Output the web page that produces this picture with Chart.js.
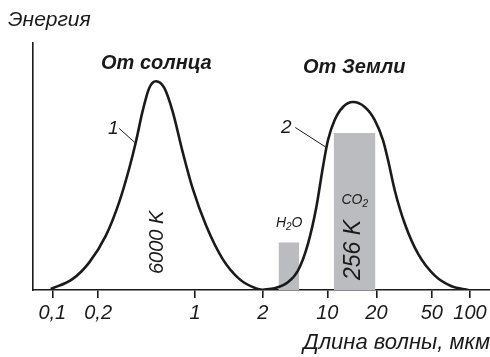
<!DOCTYPE html>
<html>
<head>
<meta charset="utf-8">
<script src="https://cdn.jsdelivr.net/npm/chart.js@4/dist/chart.umd.min.js"></script>
<style>
  body { margin: 0; background: #fff; }
  canvas { display: block; }
</style>
</head>
<body>
<canvas id="chart" width="490" height="357"></canvas>
<script>
/**
 * DATA (schematic axis: x = position along the wavelength axis, y = energy, 0..100)
 */
const tickPos = [19.3, 65, 161.7, 229.3, 293.7, 342.7, 398, 436];
const tickLabels = ["0,1", "0,2", "1", "2", "10", "20", "50", "100"];

// curve 1 - radiation of the Sun (6000 K)
const sunX = [17.7, 39.3, 56, 72.7, 86, 96, 102.7, 109.3, 116, 122.7, 131, 139.3, 149.3, 159.3, 172.7, 189.3, 206, 222.7, 229.3];
const sunY = [0.4, 4.4, 11.1, 22.0, 35.6, 49.2, 60.0, 72.3, 81.8, 84.5, 81.8, 72.3, 55.9, 41.1, 26.1, 12.5, 4.4, 0.6, 0];

// curve 2 - radiation of the Earth (256 K)
const earthX = [229.3, 241, 254.3, 264.3, 274.3, 282.7, 289.3, 294.3, 301, 309.3, 319.3, 331, 341, 349.3, 354.3, 361, 371, 384.3, 401, 417.7, 434.3];
const earthY = [0.1, 0.7, 3.1, 7.8, 18.6, 33.5, 49.8, 60.6, 68.8, 74.1, 76.1, 74.1, 68.8, 60.6, 52.5, 40.3, 26.8, 14.6, 5.8, 1.5, 0];

// absorption bands
const bandNames = ["H2O", "CO2"];
const bandFrom = [245, 300];
const bandTo = [265.7, 341.7];
const bandHeight = [19.2, 63.6];

const FONT = '"Liberation Sans", Arial, Helvetica, sans-serif';
const INK = "#1a1a1a";
const BAND = "#bbbcbf";

/**
 * AUX
 */
const toPoints = (xs, ys) => xs.map((x, i) => ({ x: x, y: ys[i] }));

const curveDataset = (label, xs, ys) => ({
  label: label,
  data: toPoints(xs, ys),
  showLine: true,
  borderColor: INK,
  borderWidth: 2.6,
  pointRadius: 0,
  cubicInterpolationMode: "monotone",
  fill: false
});

const bandDataset = (i) => ({
  label: bandNames[i],
  data: [{ x: bandFrom[i], y: bandHeight[i] }, { x: bandTo[i], y: bandHeight[i] }],
  showLine: true,
  borderWidth: 0,
  borderColor: BAND,
  backgroundColor: BAND,
  pointRadius: 0,
  fill: "origin"
});

// text with an optional subscript part: parts = [[text, isSub], ...]
const drawParts = (ctx, parts, cx, cy, size) => {
  const subSize = Math.round(size * 0.72);
  let total = 0;
  parts.forEach(p => {
    ctx.font = `italic ${p[1] ? subSize : size}px ${FONT}`;
    total += ctx.measureText(p[0]).width;
  });
  let x = cx - total / 2;
  ctx.textAlign = "left";
  ctx.textBaseline = "middle";
  parts.forEach(p => {
    ctx.font = `italic ${p[1] ? subSize : size}px ${FONT}`;
    ctx.fillText(p[0], x, p[1] ? cy + size * 0.3 : cy);
    x += ctx.measureText(p[0]).width;
  });
};

const notes = {
  id: "notes",
  afterDatasetsDraw(chart) {
    const { ctx, scales: { x, y } } = chart;
    const px = v => x.getPixelForValue(v);
    const py = v => y.getPixelForValue(v);
    ctx.save();
    ctx.fillStyle = INK;
    ctx.strokeStyle = INK;

    // y axis caption
    ctx.font = `italic 21px ${FONT}`;
    ctx.textAlign = "left";
    ctx.textBaseline = "alphabetic";
    ctx.fillText("Энергия", 8, 26);

    // headings
    ctx.font = `italic bold 20px ${FONT}`;
    ctx.textAlign = "center";
    ctx.fillText("От солнца", px(123), py(89.3));
    ctx.fillText("От Земли", px(320.5), py(87.9));

    // curve numbers with leaders
    ctx.font = `italic 19px ${FONT}`;
    ctx.fillText("1", px(80), py(63.3));
    ctx.fillText("2", px(252.7), py(63.6));
    ctx.lineWidth = 1;
    ctx.beginPath();
    ctx.moveTo(px(86), py(65.4));
    ctx.lineTo(px(102.7), py(59.3));
    ctx.moveTo(px(261.7), py(65.8));
    ctx.lineTo(px(292.7), py(57.7));
    ctx.stroke();

    // temperatures, rotated
    const vertical = (txt, vx, vy, size) => {
      ctx.save();
      ctx.translate(px(vx), py(vy));
      ctx.rotate(-Math.PI / 2);
      ctx.font = `italic ${size}px ${FONT}`;
      ctx.textAlign = "center";
      ctx.textBaseline = "middle";
      ctx.fillText(txt, 0, 0);
      ctx.restore();
    };
    vertical("6000 K", 124.3, 19.3, 20);
    vertical("256 K", 320.3, 16.2, 23);

    // band names
    drawParts(ctx, [["H", false], ["2", true], ["O", false]], px(255.6), py(27.1), 14);
    drawParts(ctx, [["CO", false], ["2", true]], px(321), py(36.3), 14);

    ctx.restore();
  }
};

/**
 * Chart
 */
document.addEventListener("DOMContentLoaded", () => {
  new Chart(document.getElementById("chart"), {
    type: "scatter",
    data: {
      datasets: [
        curveDataset("1", sunX, sunY),
        curveDataset("2", earthX, earthY),
        bandDataset(0),
        bandDataset(1)
      ]
    },
    options: {
      responsive: false,
      animation: false,
      devicePixelRatio: 1,
      layout: { padding: { top: 43, left: 33, right: 0, bottom: 1 } },
      plugins: {
        legend: { display: false },
        tooltip: { enabled: false }
      },
      scales: {
        x: {
          type: "linear",
          min: 0,
          max: 456,
          afterBuildTicks: scale => {
            scale.ticks = tickPos.map(v => ({ value: v }));
          },
          ticks: {
            autoSkip: false,
            maxRotation: 0,
            padding: 3,
            color: INK,
            font: { family: FONT, size: 20, style: "italic" },
            callback: (value, index) => tickLabels[index]
          },
          grid: {
            display: true,
            drawOnChartArea: false,
            drawTicks: true,
            tickLength: 8,
            color: INK,
            lineWidth: 1.6
          },
          border: { display: true, color: INK, width: 1.6 },
          title: {
            display: true,
            text: "Длина волны, мкм",
            align: "end",
            color: INK,
            font: { family: FONT, size: 22, style: "italic" },
            padding: { top: 1.6, bottom: 0 }
          }
        },
        y: {
          min: 0,
          max: 100,
          ticks: { display: false },
          grid: { display: false, drawTicks: false },
          border: { display: true, color: INK, width: 1.6 }
        }
      }
    },
    plugins: [notes]
  });
});
</script>
</body>
</html>
